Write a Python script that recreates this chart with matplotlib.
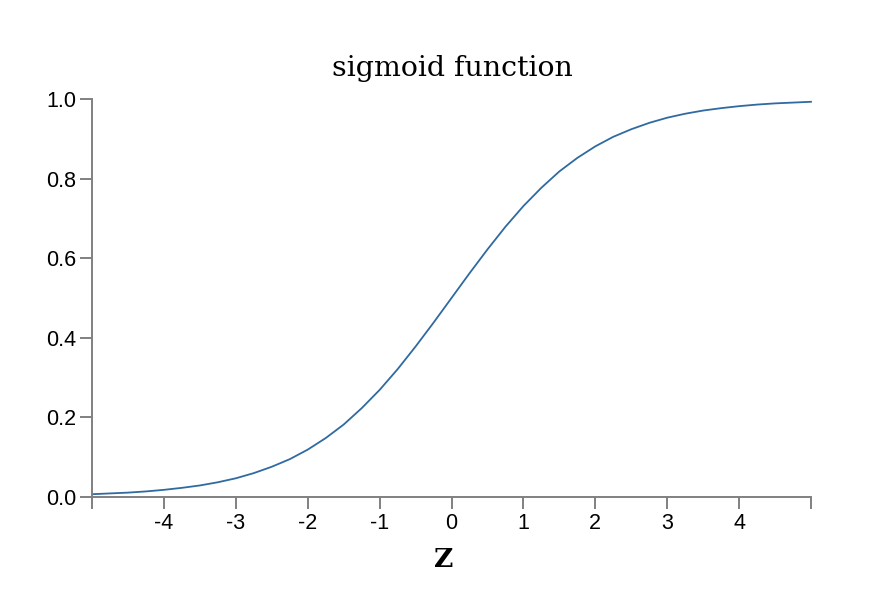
import matplotlib.pyplot as plt

# points
z = [-5.0, -4.75, -4.5, -4.25, -4.0, -3.75, -3.5, -3.25, -3.0, -2.75, -2.5,
     -2.25, -2.0, -1.75, -1.5, -1.25, -1.0, -0.75, -0.5, -0.25, 0.0,
     0.25, 0.5, 0.75, 1.0, 1.25, 1.5, 1.75, 2.0, 2.25, 2.5,
     2.75, 3.0, 3.25, 3.5, 3.75, 4.0, 4.25, 4.5, 4.75, 5.0]
y = [0.007, 0.009, 0.011, 0.014, 0.018, 0.023, 0.029, 0.037, 0.047, 0.060, 0.076,
     0.095, 0.119, 0.148, 0.182, 0.223, 0.269, 0.321, 0.378, 0.438, 0.500,
     0.562, 0.622, 0.679, 0.731, 0.777, 0.818, 0.852, 0.881, 0.905, 0.924,
     0.940, 0.953, 0.963, 0.971, 0.977, 0.982, 0.986, 0.989, 0.991, 0.993]

x_ticks = [-5, -4, -3, -2, -1, 0, 1, 2, 3, 4, 5]
x_labels = ['', '-4', '-3', '-2', '-1', '0', '1', '2', '3', '4', '']
y_ticks = [0.0, 0.2, 0.4, 0.6, 0.8, 1.0]
y_labels = ['0.0', '0.2', '0.4', '0.6', '0.8', '1.0']

axis_grey = '#808080'

fig = plt.figure(figsize=(8.88, 5.95), dpi=100)
ax = fig.add_axes([92 / 888, 98 / 595, 719 / 888, 398 / 595])
ax.plot(z, y, color='#2f6aa0', linewidth=1.3, clip_on=False)

ax.set_xlim(-5, 5)
ax.set_ylim(0, 1)
ax.spines['top'].set_visible(False)
ax.spines['right'].set_visible(False)
for s in ['left', 'bottom']:
    ax.spines[s].set_color(axis_grey)
    ax.spines[s].set_linewidth(1.4)

ax.set_xticks(x_ticks)
ax.set_xticklabels(x_labels, fontfamily='Liberation Sans', fontsize=15.5)
ax.set_yticks(y_ticks)
ax.set_yticklabels(y_labels, fontfamily='Liberation Sans', fontsize=15.5)
ax.tick_params(axis='both', color=axis_grey, width=1.4, length=8.5, pad=3)

# title and axis label placed like the original (d3-style layout)
fig.text(452 / 888, 1 - 76 / 595, 'sigmoid function', fontfamily='DejaVu Serif',
         fontsize=20.5, ha='center', va='baseline')
fig.text(443.5 / 888, 1 - 567 / 595, 'Z', fontfamily='DejaVu Serif',
         fontsize=19, fontweight='bold', ha='center', va='baseline')

plt.savefig('out.png', dpi=100)
